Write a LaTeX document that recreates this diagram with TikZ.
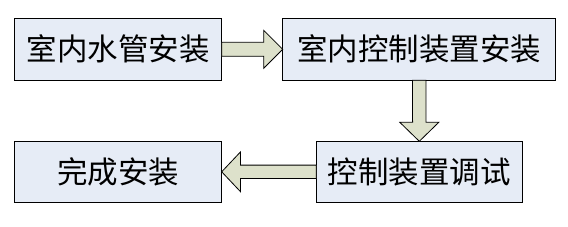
\documentclass[tikz,border=0pt]{standalone}
\usepackage{fontspec}
\newfontfamily\cjk{Noto Sans CJK SC}
\usetikzlibrary{calc}
\definecolor{boxfill}{HTML}{E6ECF6}
\definecolor{arrfill}{HTML}{DDE1CB}
\tikzset{
  stepbox/.style={draw=black, line width=0.9pt, fill=boxfill, inner sep=0pt, outer sep=0pt,
    font=\cjk\fontsize{30.5}{34}\selectfont},
  blockarrow/.style={draw=black, line width=0.8pt, fill=arrfill, line join=miter}
}
\begin{document}
\begin{tikzpicture}[x=1pt,y=1pt]
\useasboundingbox (0,0) rectangle (568,226);
\node[stepbox, minimum width=207pt, minimum height=62pt] (a) at (118.2,176.7) {室内水管安装};
\node[stepbox, minimum width=273pt, minimum height=62pt] (b) at (419.2,176.7) {室内控制装置安装};
\node[stepbox, minimum width=206pt, minimum height=61pt] (d) at (419.3,54.2) {控制装置调试};
\node[stepbox, minimum width=207pt, minimum height=61pt] (c) at (118.2,54.2) {完成安装};
% right arrow a -> b
\draw[blockarrow] ($(a.east)+(0,7)$) -- ($(b.west)+(-19,7)$) -- ($(b.west)+(-19,19)$) -- (b.west)
  -- ($(b.west)+(-19,-19)$) -- ($(b.west)+(-19,-7)$) -- ($(a.east)+(0,-7)$) -- cycle;
% down arrow b -> d
\draw[blockarrow] ($(b.south)+(-6.7,0)$) -- ($(d.north)+(-6.7,19)$) -- ($(d.north)+(-19.5,19)$) -- (d.north)
  -- ($(d.north)+(19.5,19)$) -- ($(d.north)+(6.7,19)$) -- ($(b.south)+(6.7,0)$) -- cycle;
% left arrow d -> c
\draw[blockarrow] ($(d.west)+(0,6.7)$) -- ($(c.east)+(18.7,6.7)$) -- ($(c.east)+(18.7,19.8)$) -- (c.east)
  -- ($(c.east)+(18.7,-19.8)$) -- ($(c.east)+(18.7,-6.7)$) -- ($(d.west)+(0,-6.7)$) -- cycle;
\end{tikzpicture}
\end{document}
